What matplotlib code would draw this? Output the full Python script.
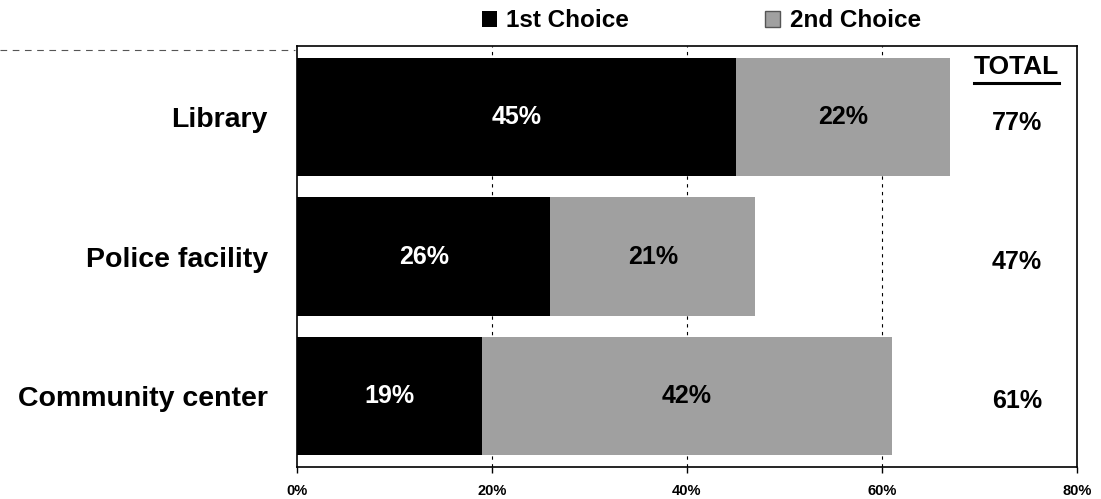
import matplotlib.pyplot as plt
from matplotlib.patches import Patch
from matplotlib.lines import Line2D

plt.rcParams['font.family'] = ['Liberation Sans', 'DejaVu Sans']

categories = ['Library', 'Police facility', 'Community center']
first_choice = [45, 26, 19]
second_choice = [22, 21, 42]
totals = ['77%', '47%', '61%']
xticks = [0, 20, 40, 60, 80]

fig = plt.figure(figsize=(11.01, 4.99), dpi=100)
ax = fig.add_axes([0.2698, 0.0641, 0.7082, 0.8437])

y = range(len(categories))
ax.barh(y, first_choice, height=0.85, color='black', zorder=3)
ax.barh(y, second_choice, left=first_choice, height=0.85, color='#a0a0a0', zorder=3)

# values inside the bars, totals on the right
for i in y:
    ax.text(first_choice[i] / 2, i, f'{first_choice[i]}%', color='white',
            fontsize=18, fontweight='bold', ha='center', va='center', zorder=4)
    ax.text(first_choice[i] + second_choice[i] / 2, i, f'{second_choice[i]}%', color='black',
            fontsize=18, fontweight='bold', ha='center', va='center', zorder=4)
    ax.text(73.85, i + 0.04, totals[i], fontsize=18, fontweight='bold', ha='center', va='center')

ax.text(73.85, -0.36, 'TOTAL', fontsize=19, fontweight='bold', ha='center', va='center')
ax.plot([69.5, 78.2], [-0.245, -0.245], color='black', lw=2.2, clip_on=False)

ax.set_xlim(0, 80)
ax.set_ylim(2.51, -0.51)
ax.set_yticks(list(y))
ax.set_yticklabels(categories, fontsize=20.5, fontweight='bold')
ax.tick_params(axis='y', length=0, pad=21)
ax.set_xticks(xticks)
ax.set_xticklabels([f'{t}%' for t in xticks], fontsize=10.5, fontweight='bold')
ax.tick_params(axis='x', direction='out', length=4, width=1, pad=8)

for t in xticks[1:-1]:
    ax.axvline(t, color='black', lw=0.8, ls=(0, (3, 4)), zorder=1)

for s in ax.spines.values():
    s.set_linewidth(1.2)

# faint scan line left of the plot box
fig.add_artist(Line2D([0, 0.268], [0.9, 0.9], color='#555555', lw=0.8, ls=(0, (6, 5))))

handles = [Patch(facecolor='black', label='1st Choice'),
           Patch(facecolor='#a0a0a0', edgecolor='#555555', label='2nd Choice')]
fig.legend(handles=handles, loc='center', bbox_to_anchor=(0.637, 0.958), ncol=2,
           frameon=False, prop={'size': 17.5, 'weight': 'bold'}, columnspacing=5.6,
           handlelength=0.6, handleheight=0.6, handletextpad=0.4, borderpad=0)

plt.savefig('out.png', dpi=100)
